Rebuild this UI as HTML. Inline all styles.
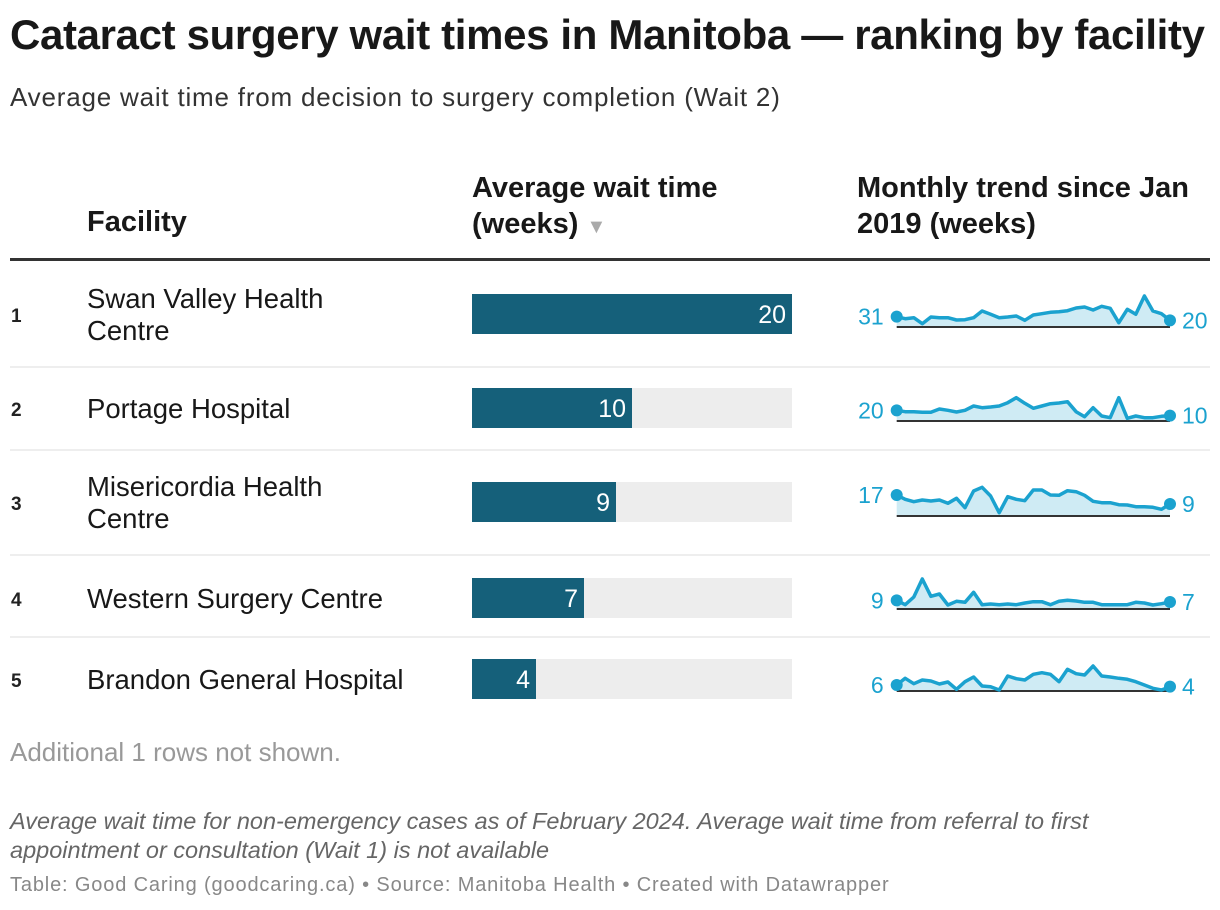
<!DOCTYPE html>
<html><head><meta charset="utf-8">
<style>
body{margin:0;width:1220px;height:910px;background:#fff;font-family:"Liberation Sans",Arial,sans-serif;color:#181818;position:relative;overflow:hidden}
.a{position:absolute;white-space:nowrap}
</style></head><body>
<div class="a" style="left:10px;top:11px;font-size:42px;font-weight:bold;letter-spacing:-0.35px">Cataract surgery wait times in Manitoba — ranking by facility</div>
<div class="a" style="left:10px;top:82px;font-size:26px;letter-spacing:0.8px;color:#333">Average wait time from decision to surgery completion (Wait 2)</div>
<div class="a" style="left:87px;top:206px;font-size:29px;font-weight:bold">Facility</div>
<div class="a" style="left:472px;top:170px;font-size:29px;font-weight:bold;line-height:36px">Average wait time<br>(weeks) <span style="color:#aaa;font-size:20px">▼</span></div>
<div class="a" style="left:857px;top:170px;font-size:29px;font-weight:bold;line-height:36px">Monthly trend since Jan<br>2019 (weeks)</div>
<svg id="tbl" class="a" style="left:0;top:0" width="1220" height="910"></svg>
<div class="a" style="left:10px;top:737px;font-size:26px;color:#999">Additional 1 rows not shown.</div>
<div class="a" style="left:10px;top:807px;font-size:23.5px;color:#666;font-style:italic;line-height:29px">Average wait time for non-emergency cases as of February 2024. Average wait time from referral to first<br>appointment or consultation (Wait 1) is not available</div>
<div class="a" style="left:10px;top:874px;font-size:20px;letter-spacing:0.85px;color:#888">Table: Good Caring (goodcaring.ca) • Source: Manitoba Health • Created with Datawrapper</div>
<script>
const facilities=["Swan Valley Health\nCentre","Portage Hospital","Misericordia Health\nCentre","Western Surgery Centre","Brandon General Hospital"];
const waitWeeks=[20,10,9,7,4];
const firstLabels=[31,20,17,9,6];
const lastLabels=[20,10,9,7,4];
const trend1=[31,25,28,10,30,28,28,21,22,28,48,38,28,30,33,20,36,40,44,46,49,57,60,51,62,56,13,53,38,93,48,40,20];
const trend2=[32,28,28,26,26,36,32,27,32,45,40,42,45,55,70,53,38,45,52,54,58,28,13,40,15,10,70,8,15,10,10,14,16];
const trend3=[63,50,43,48,45,48,38,53,25,75,86,60,10,58,50,46,78,78,63,62,76,73,62,44,40,40,34,33,28,28,26,20,36];
const trend4=[26,13,36,90,38,45,12,23,20,50,13,15,13,15,13,18,22,22,13,23,26,24,20,20,13,13,13,13,20,18,12,16,21];
const trend5=[18,38,22,33,30,21,27,5,28,42,15,13,3,45,37,33,50,55,50,28,65,52,48,75,45,42,38,35,28,18,8,3,13];
const trends=[trend1,trend2,trend3,trend4,trend5];
const svg=document.getElementById('tbl');const NS='http://www.w3.org/2000/svg';
function mk(t,a,p){const e=document.createElementNS(NS,t);for(const k in a)e.setAttribute(k,a[k]);(p||svg).appendChild(e);return e;}
const rowY=[314,408,502,598,679], base=[327,421,516,609,691], seps=[366,449,554,636];
const hl=mk('rect',{x:10,y:258,width:1200,height:3,fill:'#333'});


seps.forEach(y=>{const l=mk('rect',{x:10,y:y,width:1200,height:2,fill:'#eee'});

});
const bx=472,bw=320,maxV=20;
const xs=v=>bx+v/maxV*bw;
const sx0=896.7,sx1=1170;
facilities.forEach((f,i)=>{
 const g=mk('g',{});
 
 
 const c=rowY[i];
 const rk=mk('text',{x:11,y:c+8,'font-size':19,'font-weight':'bold',fill:'#222'},g);rk.textContent=i+1;
 
 
 const lines=f.split('\n');
 const ft=mk('text',{x:87,y:lines.length>1?c-6:c+10,'font-size':27.5,fill:'#181818'},g);
 
 
 lines.forEach((s,j)=>{const ts=mk('tspan',{x:87,dy:j?32:0},ft);ts.textContent=s;});
 const bg=mk('rect',{x:bx,y:c-20,width:bw,height:40,fill:'#ededed'},g);
 
 
 const b=mk('rect',{x:bx,y:c-20,width:xs(waitWeeks[i])-bx,height:40,fill:'#15607a'},g);
 
 
 const bt=mk('text',{x:xs(waitWeeks[i])-6,y:c+9,'font-size':25,fill:'#fff','text-anchor':'end'},g);bt.textContent=waitWeeks[i];
 
 
 const d=trends[i],n=d.length,by=base[i];
 const px=k=>sx0+k*(sx1-sx0)/(n-1), py=v=>by-v/3;
 let p=d.map((v,k)=>(k?'L':'M')+px(k).toFixed(1)+','+py(v).toFixed(1)).join('');
 const ar=mk('path',{d:p+'L'+sx1+','+by+'L'+sx0+','+by+'Z',fill:'#cfebf4'},g);
 
 
 const bl=mk('rect',{x:sx0,y:by-1,width:sx1-sx0,height:2,fill:'#333'},g);
 
 
 const ln=mk('path',{d:p,fill:'none',stroke:'#1ba2cf','stroke-width':3.5,'stroke-linejoin':'round'},g);
 
 
 [[0,firstLabels[i],'end',-13],[n-1,lastLabels[i],'start',12]].forEach(([k,lab,anc,off])=>{
  const dt=mk('circle',{cx:px(k),cy:py(d[k]),r:6,fill:'#1ba2cf'},g);
  
  
  const t=mk('text',{x:px(k)+off,y:py(d[k])+8,'font-size':23,fill:'#1ba2cf','text-anchor':anc},g);t.textContent=lab;
  
  
 });
});
</script>
</body></html>
